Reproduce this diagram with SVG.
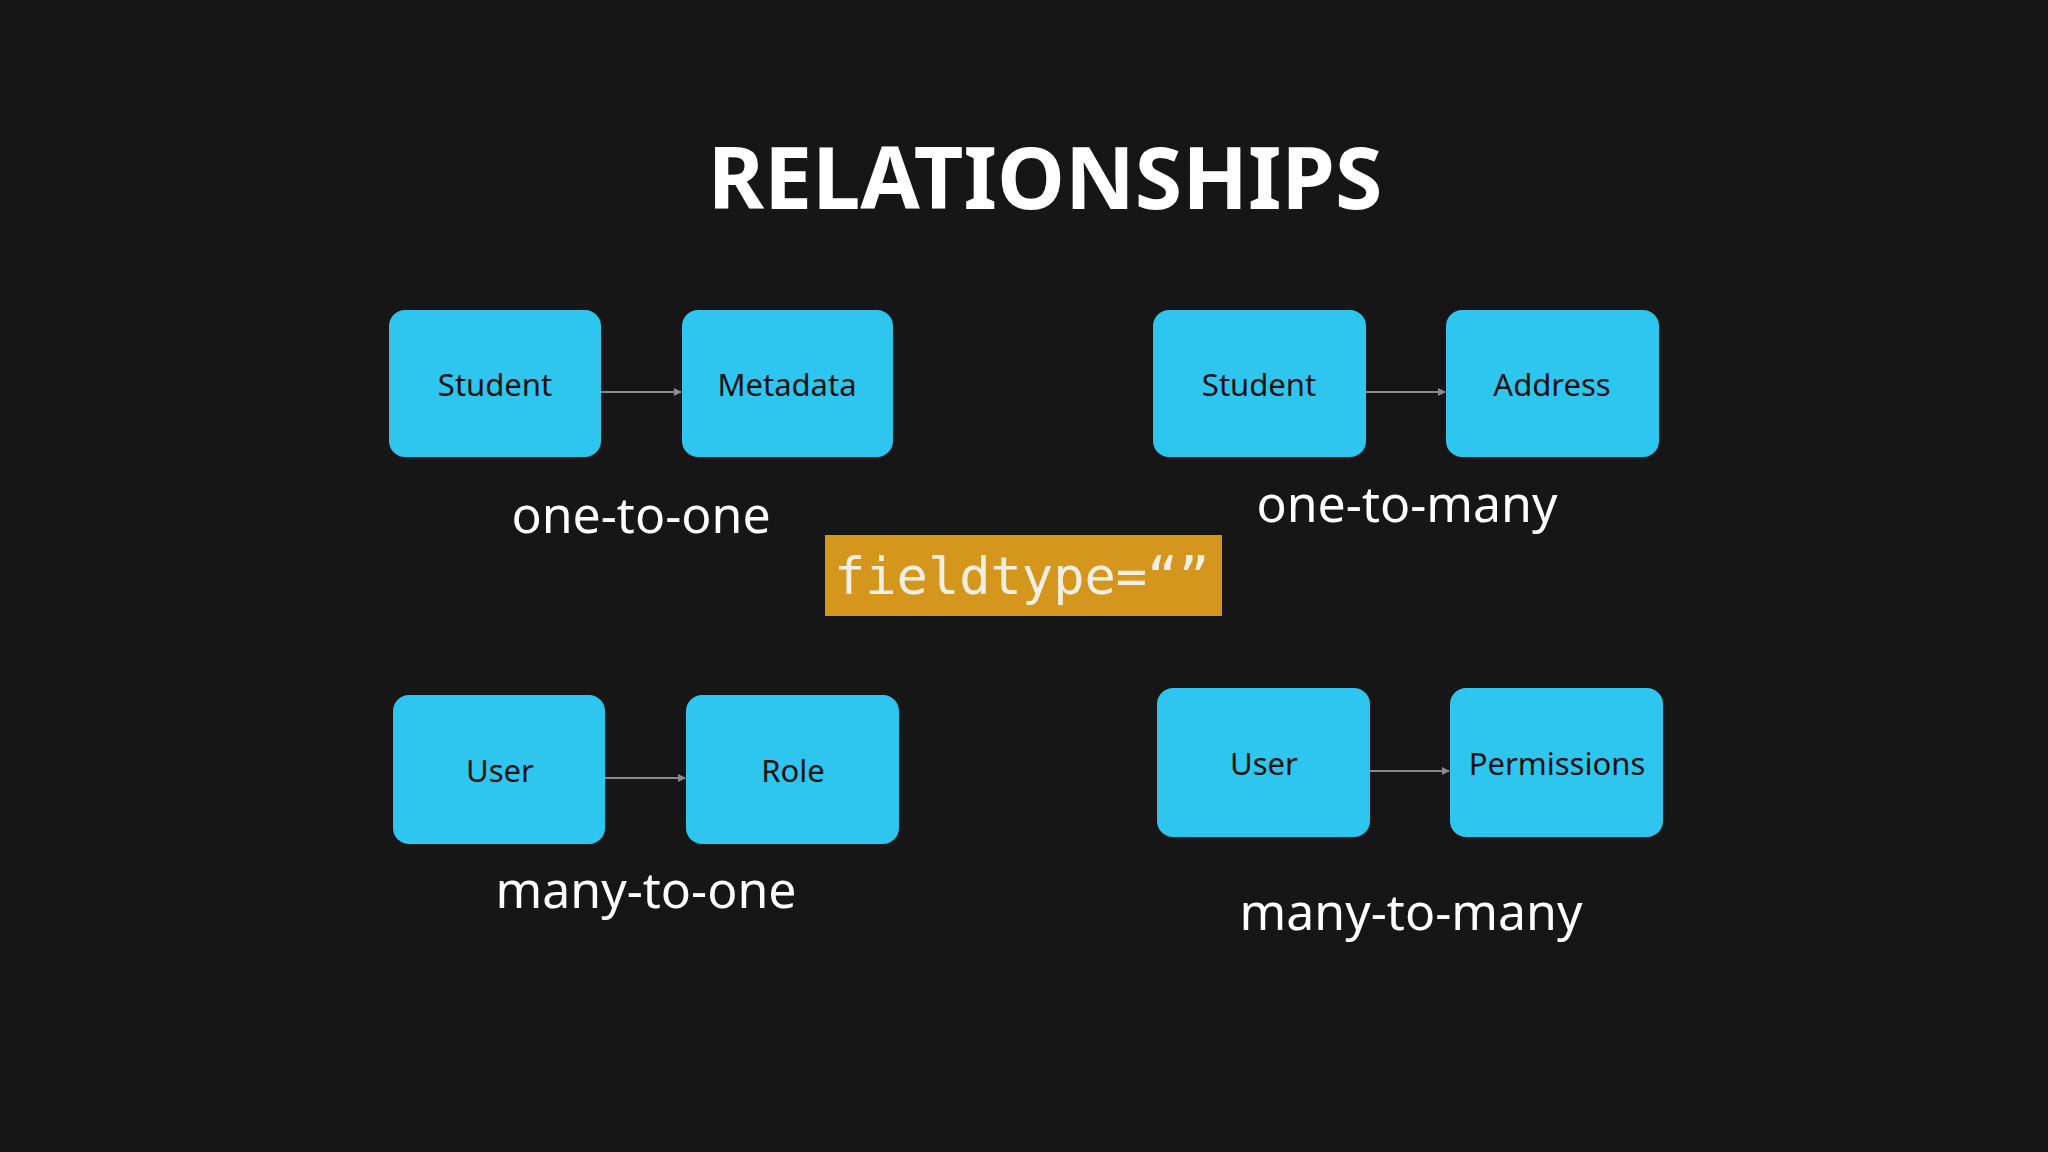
<svg xmlns="http://www.w3.org/2000/svg" width="2048" height="1152" viewBox="0 0 2048 1152">
<defs>
<marker id="ah" markerWidth="8" markerHeight="8" refX="7" refY="4" orient="auto" markerUnits="userSpaceOnUse"><path d="M0,0 L8,4 L0,8 z" fill="#8a8a8a"/></marker>
<style>
.box{fill:#2ec5ef}
.bt{font-family:"Noto Sans",sans-serif;font-size:31px;fill:#111;text-anchor:middle}
.lbl{font-family:"Noto Sans",sans-serif;font-size:50px;fill:#fff;text-anchor:middle}
.c{stroke:#8a8a8a;stroke-width:2;fill:none;marker-end:url(#ah)}
</style>
</defs>
<rect width="2048" height="1152" fill="#161616"/>
<text x="1045" y="209" font-family="Noto Sans,sans-serif" font-weight="bold" font-size="86" fill="#fff" text-anchor="middle">RELATIONSHIPS</text>
<g id="connectors">
<line class="c" x1="601" y1="392" x2="681" y2="392"/>
<line class="c" x1="1366" y1="392" x2="1445" y2="392"/>
<line class="c" x1="605" y1="778" x2="685" y2="778"/>
<line class="c" x1="1370" y1="771" x2="1449" y2="771"/>
</g>
<g id="student1"><rect class="box" x="389" y="310" width="212" height="147" rx="16"/><text class="bt" x="495" y="396">Student</text></g>
<g id="metadata"><rect class="box" x="682" y="310" width="211" height="147" rx="16"/><text class="bt" x="787" y="396">Metadata</text></g>
<g id="student2"><rect class="box" x="1153" y="310" width="213" height="147" rx="16"/><text class="bt" x="1259" y="396">Student</text></g>
<g id="address"><rect class="box" x="1446" y="310" width="213" height="147" rx="16"/><text class="bt" x="1552" y="396">Address</text></g>
<g id="user1"><rect class="box" x="393" y="695" width="212" height="149" rx="16"/><text class="bt" x="500" y="782">User</text></g>
<g id="role"><rect class="box" x="686" y="695" width="213" height="149" rx="16"/><text class="bt" x="793" y="782">Role</text></g>
<g id="user2"><rect class="box" x="1157" y="688" width="213" height="149" rx="16"/><text class="bt" x="1264" y="775">User</text></g>
<g id="permissions"><rect class="box" x="1450" y="688" width="213" height="149" rx="16"/><text class="bt" x="1557" y="775">Permissions</text></g>
<text class="lbl" x="641" y="533">one-to-one</text>
<text class="lbl" x="1407" y="522">one-to-many</text>
<text class="lbl" x="646" y="908">many-to-one</text>
<text class="lbl" x="1411" y="930">many-to-many</text>
<g id="fieldtype"><rect x="825" y="535" width="397" height="81" fill="#d4961c"/><text x="834" y="594" font-family="DejaVu Sans Mono,monospace" font-size="52" fill="#f4efe0">fieldtype=“”</text></g>
</svg>
